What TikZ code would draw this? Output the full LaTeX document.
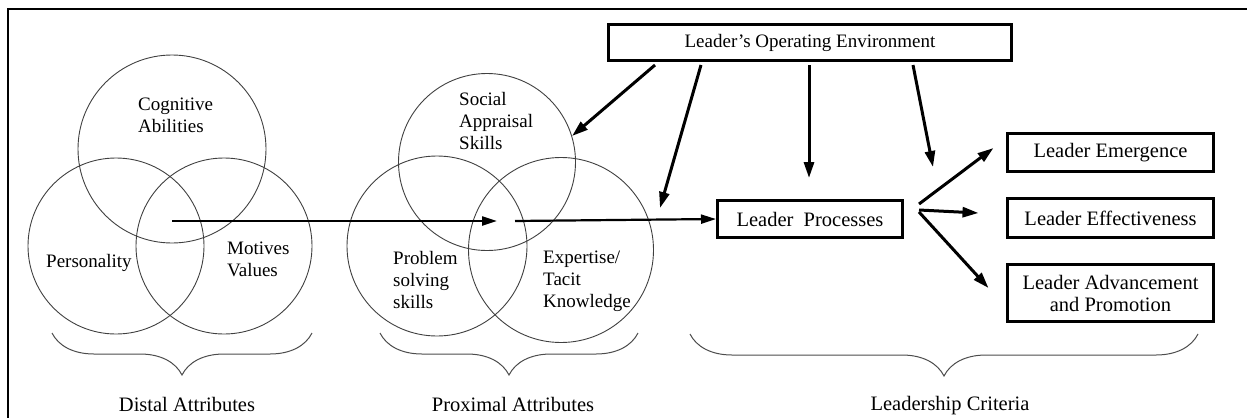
\documentclass[tikz,border=0pt]{standalone}
\usepackage{fontspec}
\setmainfont{Liberation Serif}
\usetikzlibrary{positioning,arrows.meta,decorations.pathreplacing}

\begin{document}
\begin{tikzpicture}[x=1pt,y=-1pt,
    venn/.style={circle,draw=black!75,line width=0.9pt,inner sep=0pt},
    lbl/.style={font=\fontsize{19}{22}\selectfont,align=left,inner sep=0pt,anchor=west},
    crit/.style={draw,line width=3pt,inner sep=0pt,minimum width=206pt,
      font=\fontsize{20.5}{22}\selectfont,align=center},
    envarrow/.style={line width=3pt,-{Triangle[length=16pt,width=10pt]}},
    flow/.style={line width=2.2pt,-{Triangle[length=15pt,width=9pt]}},
    brc/.style={decorate,decoration={brace,mirror,amplitude=42pt},draw=black!70,line width=1pt},
    grouplbl/.style={font=\fontsize{20.5}{22}\selectfont,anchor=base}]
  \useasboundingbox (0,0) rectangle (1247,418);
  % Draw the frame
  \draw[line width=2pt] (1247,9) -- (8,9) -- (8,418);
  % Draw the distal circles
  \node[venn,minimum size=188pt] (cog) at (172,149) {};
  \node[venn,minimum size=176pt] (pers) at (116,246) {};
  \node[venn,minimum size=176pt] (mot) at (224,246) {};
  \node[lbl] at (138,115) {Cognitive\\Abilities};
  \node[lbl] at (46,262.5) {Personality};
  \node[lbl] at (227,259.5) {Motives\\Values};
  % Draw the proximal circles
  \node[venn,minimum size=177pt] (sas) at (487,162) {};
  \node[venn,minimum size=180pt] (prob) at (437,246) {};
  \node[venn,minimum size=185pt] (exp) at (561,250) {};
  \node[lbl] at (459,120.5) {Social\\Appraisal\\Skills};
  \node[lbl] at (393,280) {Problem\\solving\\skills};
  \node[lbl] at (543,281) {Expertise/\\Tacit\\Knowledge};
  % Draw the boxes
  \node[crit,minimum width=403pt,minimum height=36pt,font=\fontsize{19}{22}\selectfont] (loe) at (810,42.5) {Leader’s Operating Environment};
  \node[crit,minimum width=185pt,minimum height=37pt] (lp) at (810,219) {Leader\ \ Processes};
  \node[crit,minimum height=38pt] (em) at (1110.5,152.5) {Leader Emergence};
  \node[crit,minimum height=39pt,below=24pt of em] (eff) {Leader Effectiveness};
  \node[crit,minimum height=57pt,below=24pt of eff] (adv) {Leader Advancement\\and Promotion};
  % Draw the main flow
  \coordinate (dstart) at (172,221);
  \coordinate (pin) at (497,221);
  \draw[flow] (dstart) -- (pin);
  \draw[flow] ([xshift=18pt]pin) -- (lp.west);
  % Draw the environment arrows
  \coordinate (envb) at (660,208);
  \coordinate (envd) at (933,167);
  \draw[envarrow] ([xshift=-155pt,yshift=-3pt]loe.south) -- (sas.17);
  \draw[envarrow] ([xshift=-109pt,yshift=-3pt]loe.south) -- (envb);
  \draw[envarrow] ([xshift=-1pt,yshift=-3pt]loe.south) -- ([xshift=-1pt,yshift=21pt]lp.north);
  \draw[envarrow] ([xshift=103pt,yshift=-3pt]loe.south) -- (envd);
  % Draw the criteria arrows
  \draw[envarrow] ([xshift=15pt,yshift=15pt]lp.east) -- ([xshift=-12.5pt,yshift=4.5pt]em.west);
  \draw[envarrow] ([xshift=15pt,yshift=9pt]lp.east) -- ([xshift=-27.5pt,yshift=5pt]eff.west);
  \draw[envarrow] ([xshift=15pt,yshift=7pt]lp.east) -- ([xshift=-17.5pt,yshift=5pt]adv.west);
  % Draw the braces
  \draw[brc] (52,333) -- (312,333);
  \draw[brc] (380,333) -- (638,333);
  \draw[brc] (690,334) -- (1198,334);
  \node[grouplbl] at (187,411) {Distal Attributes};
  \node[grouplbl] at (513,411) {Proximal Attributes};
  \node[grouplbl] at (950,410) {Leadership Criteria};
\end{tikzpicture}
\end{document}
